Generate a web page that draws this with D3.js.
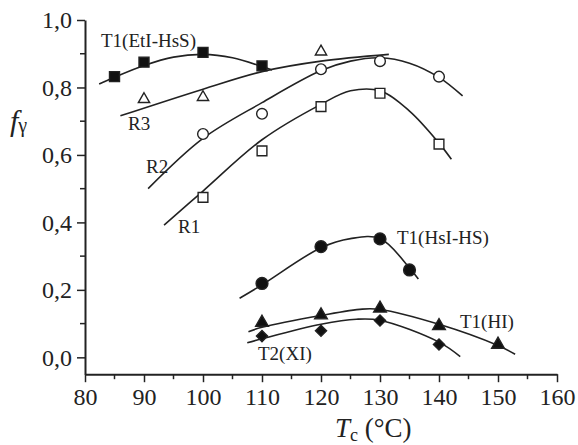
<!DOCTYPE html>
<html>
<head>
<meta charset="utf-8">
<script src="https://cdn.jsdelivr.net/npm/d3@7"></script>
<style>
  body { margin: 0; background: #fff; }
  text { font-family: "Liberation Serif", "Times New Roman", serif; fill: #222; }
</style>
</head>
<body>
<div id="chart"></div>
<script>
// Tick values
const xTicks = [80, 90, 100, 110, 120, 130, 140, 150, 160];
const yTicks = [0, 0.2, 0.4, 0.6, 0.8, 1.0];

// Measured points (Tc, f)
const etiT = [85, 90, 100, 110];
const etiF = [0.832, 0.875, 0.904, 0.864];
const r3T = [90, 100, 120];
const r3F = [0.765, 0.771, 0.906];
const r2T = [100, 110, 120, 130, 140];
const r2F = [0.662, 0.722, 0.854, 0.878, 0.832];
const r1T = [100, 110, 120, 130, 140];
const r1F = [0.474, 0.612, 0.743, 0.783, 0.632];
const hsiT = [110, 120, 130, 135];
const hsiF = [0.219, 0.328, 0.351, 0.259];
const hiT = [110, 120, 130, 140, 150];
const hiF = [0.103, 0.125, 0.145, 0.093, 0.038];
const xiT = [110, 120, 130, 140];
const xiF = [0.063, 0.079, 0.109, 0.038];

// Fitted curves as [Tc, f]
const etiFit = [[82.4, 0.81], [85, 0.83], [90, 0.865], [95, 0.89], [100, 0.898], [105, 0.888], [110, 0.862], [111.7, 0.852]];
const r3Fit = [[86, 0.716], [100, 0.795], [110, 0.847], [120, 0.878], [131.5, 0.898]];
const r2Fit = [[90.7, 0.5], [100, 0.649], [110, 0.755], [120, 0.85], [125, 0.878], [130, 0.888], [135, 0.872], [140, 0.83], [144, 0.775]];
const r1Fit = [[93.4, 0.392], [100, 0.493], [110, 0.645], [120, 0.75], [125, 0.79], [130, 0.79], [135, 0.73], [140, 0.635], [142.1, 0.587]];
const hsiFit = [[106.2, 0.175], [110, 0.215], [120, 0.325], [125, 0.352], [130, 0.352], [135, 0.265], [136.5, 0.232]];
const hiFit = [[107.7, 0.076], [110, 0.089], [120, 0.124], [127, 0.143], [130, 0.142], [140, 0.098], [150, 0.035], [152.9, 0.009]];
const xiFit = [[107.5, 0.043], [110, 0.055], [120, 0.098], [126, 0.113], [130, 0.11], [140, 0.045], [143.6, 0.002]];

const svgWidth = 578;
const svgHeight = 445;

const svg = d3.select("#chart")
  .append("svg")
  .attr("width", svgWidth)
  .attr("height", svgHeight);

const x = d3.scaleLinear().domain([80, 160]).range([85, 557]);
const y = d3.scaleLinear().domain([-0.05, 1.0]).range([374.2, 20]);

const fmt = d => d3.format(".1f")(d).replace(".", ",");

// axes
const xAxis = svg.append("g")
  .attr("transform", `translate(0, ${y(-0.05)})`)
  .call(d3.axisBottom(x).tickValues(xTicks).tickSize(8).tickSizeOuter(0).tickPadding(6));
xAxis.append("g").selectAll("line")
  .data(d3.range(85, 160, 10))
  .join("line")
  .attr("x1", d => x(d)).attr("x2", d => x(d))
  .attr("y1", 0).attr("y2", 5)
  .attr("stroke", "#222").attr("stroke-width", 1.5);

const yAxis = svg.append("g")
  .attr("transform", `translate(${x(80)}, 0)`)
  .call(d3.axisLeft(y).tickValues(yTicks).tickFormat(fmt).tickSize(8).tickSizeOuter(0).tickPadding(5));
yAxis.append("g").selectAll("line")
  .data(d3.range(0.1, 1.0, 0.2))
  .join("line")
  .attr("x1", 0).attr("x2", -5)
  .attr("y1", d => y(d)).attr("y2", d => y(d))
  .attr("stroke", "#222").attr("stroke-width", 1.5);

[xAxis, yAxis].forEach(a => a.attr("font-family", "Liberation Serif").attr("font-size", 24));
svg.selectAll(".domain").attr("stroke", "#222").attr("stroke-width", 2);
svg.selectAll(".tick line").attr("stroke", "#222").attr("stroke-width", 1.5);
svg.selectAll(".tick text")
  .style("font-family", "'Liberation Serif', serif")
  .attr("font-size", 24)
  .attr("fill", "#222");

// fitted curves
const line = d3.line()
  .x(d => x(d[0]))
  .y(d => y(d[1]))
  .curve(d3.curveCatmullRom);

[etiFit, r3Fit, r2Fit, r1Fit, hsiFit, hiFit, xiFit].forEach(fit => {
  svg.append("path")
    .datum(fit)
    .attr("d", line)
    .attr("fill", "none")
    .attr("stroke", "#222")
    .attr("stroke-width", 1.6);
});

// markers
function drawPoints(ts, fs, type, size, filled, rot) {
  svg.append("g").selectAll("path")
    .data(ts.map((t, i) => [t, fs[i]]))
    .join("path")
    .attr("d", d3.symbol().type(type).size(size))
    .attr("transform", d => `translate(${x(d[0])}, ${y(d[1])}) rotate(${rot || 0})`)
    .attr("fill", filled ? "#111" : "#fff")
    .attr("stroke", "#222")
    .attr("stroke-width", 1.4);
}

drawPoints(etiT, etiF, d3.symbolSquare, 100, true);
drawPoints(r3T, r3F, d3.symbolTriangle, 55, false);
drawPoints(r2T, r2F, d3.symbolCircle, 90, false);
drawPoints(r1T, r1F, d3.symbolSquare, 95, false);
drawPoints(hsiT, hsiF, d3.symbolCircle, 110, true);
drawPoints(hiT, hiF, d3.symbolTriangle, 70, true);
drawPoints(xiT, xiF, d3.symbolSquare, 62, true, 45);

// series labels
const labels = [
  ["T1(EtI-HsS)", 101, 46.5],
  ["R3", 128, 130],
  ["R2", 146, 173],
  ["R1", 178, 233],
  ["T1(HsI-HS)", 397, 244],
  ["T1(HI)", 460, 328],
  ["T2(XI)", 258, 360]
];
svg.append("g").selectAll("text")
  .data(labels)
  .join("text")
  .attr("x", d => d[1])
  .attr("y", d => d[2])
  .attr("font-size", 19)
  .text(d => d[0]);

// axis titles
const xt = svg.append("text")
  .attr("x", 335)
  .attr("y", 437)
  .attr("font-size", 27);
xt.append("tspan").attr("font-style", "italic").text("T");
xt.append("tspan").attr("font-size", 18).attr("dy", 4).text("c");
xt.append("tspan").attr("dy", -4).text(" (°C)");

const yt = svg.append("text")
  .attr("x", 10)
  .attr("y", 131)
  .attr("font-size", 30);
yt.append("tspan").attr("font-style", "italic").text("f");
yt.append("tspan").attr("font-size", 20).attr("dy", 1).text("γ");
</script>
</body>
</html>
